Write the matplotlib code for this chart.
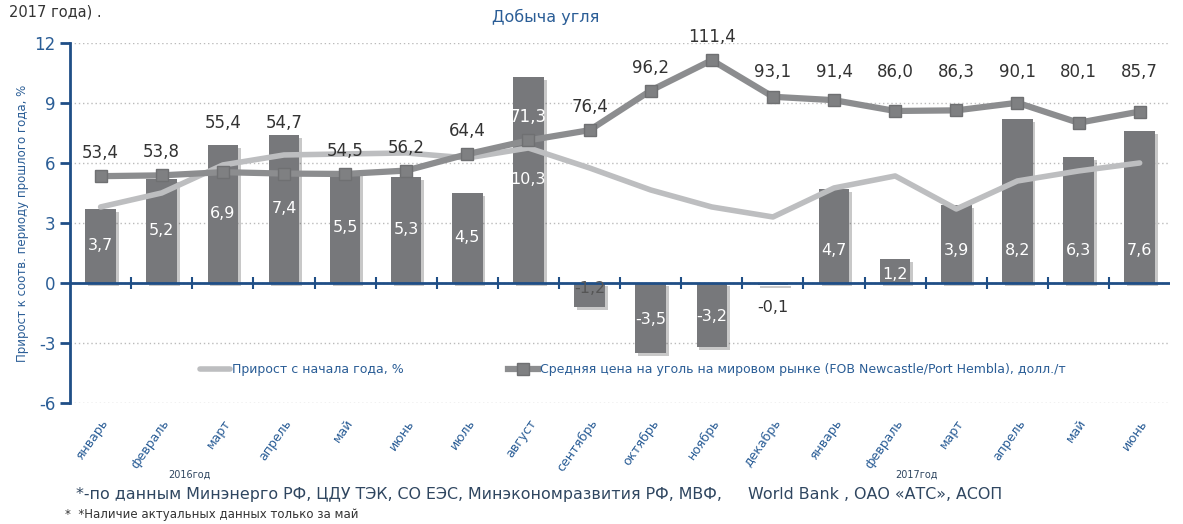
import numpy as np
import matplotlib.pyplot as plt
from matplotlib import patheffects as pe

plt.rcParams['font.family'] = ['DejaVu Sans']
plt.rcParams['axes.unicode_minus'] = False

months = ['январь', 'февраль', 'март', 'апрель', 'май', 'июнь', 'июль', 'август',
          'сентябрь', 'октябрь', 'ноябрь', 'декабрь',
          'январь', 'февраль', 'март', 'апрель', 'май', 'июнь']
yoy_growth = [3.7, 5.2, 6.9, 7.4, 5.5, 5.3, 4.5, 10.3, -1.2, -3.5, -3.2, -0.1,
              4.7, 1.2, 3.9, 8.2, 6.3, 7.6]
ytd_growth = [3.8, 4.5, 5.9, 6.4, 6.45, 6.5, 6.25, 6.75, 5.75, 4.65, 3.8, 3.3,
              4.75, 5.35, 3.7, 5.1, 5.6, 6.0]
coal_price = [53.4, 53.8, 55.4, 54.7, 54.5, 56.2, 64.4, 71.3, 76.4, 96.2, 111.4, 93.1,
              91.4, 86.0, 86.3, 90.1, 80.1, 85.7]

blue = '#1f4e86'
text_blue = '#2a5d96'
bar_col = '#77787b'

x = np.arange(len(months))

fig = plt.figure(figsize=(11.83, 5.24), dpi=100)
ax = fig.add_axes([0.0592, 0.231, 0.93, 0.687])
ax2 = ax.twinx()
ax2.set_zorder(ax.get_zorder() + 1)
ax2.patch.set_visible(False)

# bars
bars = ax.bar(x, yoy_growth, width=0.5, color=bar_col, zorder=2)
for b in bars:
    b.set_path_effects([pe.SimplePatchShadow(offset=(2, -2), alpha=0.25), pe.Normal()])

# bar value labels
for i, v in enumerate(yoy_growth):
    s = f'{v:.1f}'.replace('.', ',')
    if v >= 0:
        ly = v / 2 if i < 12 else min(v / 2, 1.6)
        if i == 13:
            ly = 0.4
        ax.text(i, ly, s, ha='center', va='center', color='white', fontsize=11.5, zorder=5)
    elif v > -0.5:
        ax.text(i, -1.25, s, ha='center', va='center', color='#333333', fontsize=11.5, zorder=5)
    else:
        ly = -0.3 if v > -2 else v / 2 - 0.1
        ax.text(i, ly, s, ha='center', va='center', color='white' if v < -2 else '#555555',
                fontsize=11.5, zorder=5)

# lines on twin axis (price scaled on 0..120)
ax2.plot(x, ytd_growth, color='#bdbec0', lw=4, solid_capstyle='round', zorder=3,
         label='Прирост с начала года, %')
ax2.plot(x, np.array(coal_price) / 10, color='#8c8d8f', lw=4.5, marker='s', ms=9,
         mfc='#7f8082', mec='#6f7072', zorder=4,
         label='Средняя цена на уголь на мировом рынке (FOB Newcastle/Port Hembla), долл./т')
for i, p in enumerate(coal_price):
    s = f'{p:.1f}'.replace('.', ',')
    if i in (2, 3):
        ly = 8.0
    elif i >= 11:
        ly = 10.55
    else:
        ly = p / 10 + 1.15
    ax2.text(i, ly, s, ha='center', va='center', fontsize=12,
             color='white' if i == 7 else '#333333', zorder=6)

for a in (ax, ax2):
    a.set_xlim(-0.5, 17.5)
    a.set_ylim(-6, 12)
ax2.set_yticks([])
for sp in ax2.spines.values():
    sp.set_visible(False)

ax.set_yticks(np.arange(-6, 13, 3))
ax.tick_params(axis='y', colors=blue, labelcolor=text_blue, labelsize=12, length=7, width=2)
ax.yaxis.grid(True, linestyle=(0, (1, 2)), color='#bbbbbb', lw=1)
ax.set_axisbelow(True)
for s in ('top', 'right', 'bottom'):
    ax.spines[s].set_visible(False)
ax.spines['left'].set_color(blue)
ax.spines['left'].set_linewidth(2)

ax.axhline(0, color=blue, lw=2, zorder=2.5)
ax.vlines(x[:-1] + 0.5, -0.28, 0.28, color=blue, lw=1.5, zorder=2.5)

ax.set_xticks(x)
ax.set_xticklabels(months, rotation=55, ha='right', rotation_mode='anchor',
                   color=text_blue, fontsize=9)
ax.tick_params(axis='x', length=0, pad=10)

ax.set_ylabel('Прирост к соотв. периоду прошлого года, %', color=text_blue, fontsize=8.5,
              labelpad=4)

ax2.legend(loc='center left', bbox_to_anchor=(0.118, 0.092), ncol=2, frameon=False,
           fontsize=9, labelcolor=text_blue, handlelength=2.4, handletextpad=0.15,
           columnspacing=8.4, borderpad=0, borderaxespad=0)

fig.text(0.461, 0.967, 'Добыча угля', ha='center', va='center', color=text_blue, fontsize=11.5)
fig.text(0.008, 0.978, '2017 года) .', ha='left', va='center', color='#333333', fontsize=10.5)
fig.text(0.142, 0.094, '2016год', ha='left', va='center', color='#2f4660', fontsize=7)
fig.text(0.757, 0.094, '2017год', ha='left', va='center', color='#2f4660', fontsize=7)
fig.text(0.064, 0.057, '*-по данным Минэнерго РФ, ЦДУ ТЭК, СО ЕЭС, Минэкономразвития РФ, МВФ,',
         ha='left', va='center', color='#2f4660', fontsize=11.4)
fig.text(0.632, 0.057, 'World Bank , ОАО «АТС», АСОП', ha='left', va='center',
         color='#2f4660', fontsize=11.4)
fig.text(0.055, 0.019, '*  *Наличие актуальных данных только за май', ha='left', va='center',
         color='#333333', fontsize=8.5)

fig.savefig('out.png', dpi=100)
